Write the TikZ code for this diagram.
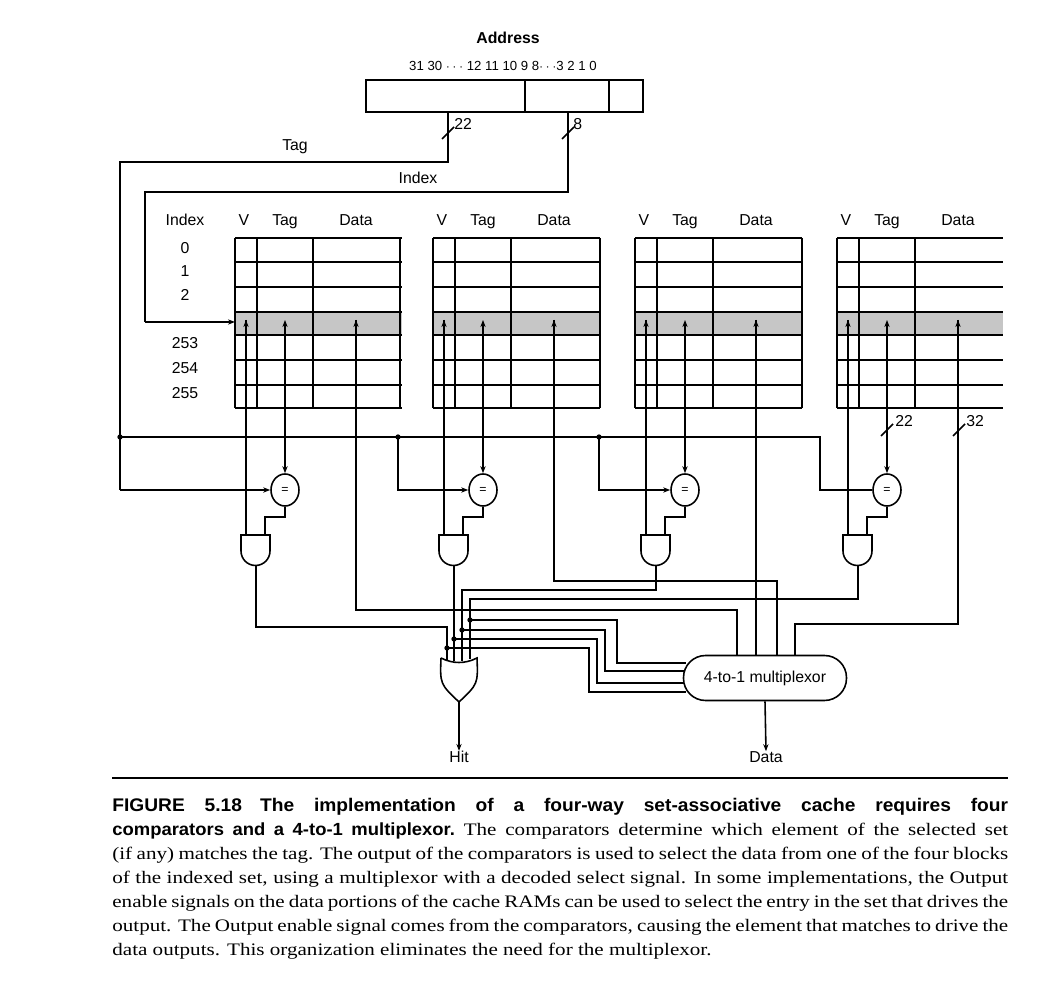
\documentclass[tikz,border=0pt]{standalone}
\usepackage{fontspec}
\setmainfont{Liberation Serif}
\setsansfont{Liberation Sans}
\newfontfamily\capserif[FakeStretch=1.2]{Liberation Serif}
\newfontfamily\capsans[FakeStretch=1.05]{Liberation Sans}
\usetikzlibrary{shapes.geometric,arrows.meta}
\tikzset{
 lbl/.style={font=\sffamily\fontsize{9}{10}\selectfont, inner sep=0pt, text depth=0pt},
 cmp/.style={draw, line width=0.9pt, ellipse, minimum width=0.56cm, minimum height=0.64cm, inner sep=0pt, font=\sffamily\scriptsize},
 wire/.style={line width=0.9pt},
 arr/.style={line width=0.9pt, -{Stealth[length=4pt,width=3pt]}},
 dotn/.style={circle, fill, inner sep=0pt, minimum size=3pt},
 mux/.style={draw, line width=0.9pt, rounded corners=0.44cm, minimum width=3.26cm, minimum height=0.9cm, inner sep=1pt, font=\sffamily\fontsize{9}{10}\selectfont},
 capline/.style={anchor=base west, inner sep=0pt, font=\capserif\fontsize{10}{12}\selectfont}
}
\newcommand{\CapL}[1]{\makebox[17.92cm][s]{#1}}
\begin{document}
\begin{tikzpicture}[x=0.02cm,y=-0.02cm]
\useasboundingbox (0,0) rectangle (1052,996);
% address
\node[lbl, font=\sffamily\bfseries\fontsize{9}{10}\selectfont] (addr) at (508,38) {Address};
\node[lbl, font=\sffamily\fontsize{7.5}{8}\selectfont] (bits) at (503,66) {31 30 $\cdots$ 12 11 10 9 8$\cdots$3 2 1 0};
\draw[wire] (366,80) rectangle (643,112);
\draw[wire] (525,80) -- (525,112) (609,80) -- (609,112);
\coordinate (tagout) at (448,112);
\coordinate (idxout) at (568,112);
% Tag line
\draw[wire] (tagout) -- (448,162) -- (120,162) -- (120,490);
\node[lbl] (taglbl) at (295,145) {Tag};
\draw[wire] (442,139) -- (454,127); \node[lbl, anchor=west] at (454,124) {22};
% Index line
\coordinate (idxin) at (235,322);
\draw[wire] (idxout) -- (568,192) -- (145,192) -- (145,322);
\draw[arr] (145,322) -- (idxin);
\node[lbl] (idxlbl) at (418,178) {Index};
\draw[wire] (562,139) -- (574,127); \node[lbl, anchor=west] at (573,124) {8};
% index labels
\node[lbl] at (185,220) {Index};
\foreach \t/\y in {0/248,1/271,2/295,253/343,254/368,255/393} \node[lbl] at (185,\y) {\t};
% blocks
\foreach \bx/\n in {235/1,433/2,635/3,837/4}{
  \fill[gray!45] (\bx,312) rectangle ({\bx+167},335);
  \foreach \y in {238,262,287,312,335,360,385,408} \draw[wire] (\bx,\y) -- ({\bx+167},\y);
  \draw[wire] (\bx,238) -- (\bx,408) ({\bx+22},238) -- ({\bx+22},408) ({\bx+78},238) -- ({\bx+78},408);
  \node[lbl] at ({\bx+9},220) {V};
  \node[lbl] at ({\bx+50},220) {Tag};
  \node[lbl] at ({\bx+121},220) {Data};
  \node[cmp] (c\n) at ({\bx+50},490) {=};
  \draw[arr] ({\bx+50},408) -- (c\n.north);
  \draw[arr] ({\bx+50},335) -- ({\bx+50},320);
  \draw[arr] ({\bx+11},335) -- ({\bx+11},320);
  \draw[arr] ({\bx+121},335) -- ({\bx+121},320);
  \draw[wire] ({\bx+50},335) -- ({\bx+50},408);
  \draw[wire] ({\bx+6},535) -- ({\bx+6},551) arc[start angle=180,end angle=360,radius=0.29cm] -- ({\bx+35},535) -- cycle;
  \draw[wire] ({\bx+11},320) -- ({\bx+11},535);
  \draw[wire] (c\n.south) -- ({\bx+50},517) -- ({\bx+30},517) -- ({\bx+30},535);
}
\draw[wire] (400,238) -- (400,408);
\draw[wire] (600,238) -- (600,408);
\draw[wire] (802,238) -- (802,408);
\fill[white] (1003,236) rectangle (1010,410);
% tag bus
\draw[wire] (120,437) -- (820,437) -- (820,490) -- (c4.west);
\draw[arr] (120,490) -- (c1.west);
\draw[arr] (398,437) -- (398,490) -- (c2.west);
\draw[arr] (599,437) -- (599,490) -- (c3.west);
\node[dotn] at (120,437) {}; \node[dotn] at (398,437) {}; \node[dotn] at (599,437) {};
\draw[wire] (881,436) -- (893,424); \node[lbl, anchor=west] at (895,421) {22};
\draw[wire] (953,436) -- (965,424); \node[lbl, anchor=west] at (966,421) {32};
\foreach \bx in {235,433,635,837} \draw[wire] ({\bx+121},320) -- ({\bx+121},408);
% OR gate
\draw[wire] (441,658) .. controls (453,664) and (465,664) .. (477,658) .. controls (478,684) .. (459,702) .. controls (440,684) .. (441,658);
\coordinate (orout) at (459,702);
% mux
\node[mux] (mx) at (765,678) {4-to-1 multiplexor};
% AND outputs to OR
\draw[wire] (256,566) -- (256,627) -- (447,627) -- (447,660);
\draw[wire] (454,566) -- (454,661);
\draw[wire] (656,566) -- (656,590) -- (462,590) -- (462,661);
\draw[wire] (858,566) -- (858,599) -- (470,599) -- (470,659);
% select lines
\node[dotn] at (470,620) {}; \node[dotn] at (462,630) {}; \node[dotn] at (454,639) {}; \node[dotn] at (447,648) {};
\draw[wire] (470,620) -- (617,620) -- (617,663) -- (686,663);
\draw[wire] (462,630) -- (605,630) -- (605,671) -- (684,671);
\draw[wire] (454,639) -- (597,639) -- (597,683) -- (684,683);
\draw[wire] (447,648) -- (589,648) -- (589,692) -- (686,692);
% data to mux
\draw[wire] (356,408) -- (356,610) -- (737,610) -- (737,656);
\draw[wire] (554,408) -- (554,581) -- (777,581) -- (777,656);
\draw[wire] (756,408) -- (756,656);
\draw[wire] (958,408) -- (958,624) -- (795,624) -- (795,656);
% outputs
\node[lbl] (hit) at (459,757) {Hit};
\node[lbl] (dat) at (766,757) {Data};
\draw[arr] (orout) -- (hit.north);
\draw[arr] (mx.south) -- (dat.north);
% caption
\draw[thick] (112,778) -- (1008,778);
\node[capline] (cap1) at (112,811) {\CapL{\capsans\bfseries\fontsize{10.4}{12}\selectfont FIGURE 5.18\hspace{1em}The implementation of a four-way set-associative cache requires four}};
\node[capline] (cap2) at (112,835) {\CapL{{\capsans\bfseries\fontsize{10}{12}\selectfont comparators and a 4-to-1 multiplexor.}\ The comparators determine which element of the selected set}};
\node[capline] (cap3) at (112,859) {\CapL{(if any) matches the tag. The output of the comparators is used to select the data from one of the four blocks}};
\node[capline] (cap4) at (112,883) {\CapL{of the indexed set, using a multiplexor with a decoded select signal. In some implementations, the Output}};
\node[capline] (cap5) at (112,907) {\CapL{enable signals on the data portions of the cache RAMs can be used to select the entry in the set that drives the}};
\node[capline] (cap6) at (112,931) {\CapL{output. The Output enable signal comes from the comparators, causing the element that matches to drive the}};
\node[capline] (cap7) at (112,955) {data outputs. This organization eliminates the need for the multiplexor.};
\end{tikzpicture}
\end{document}
